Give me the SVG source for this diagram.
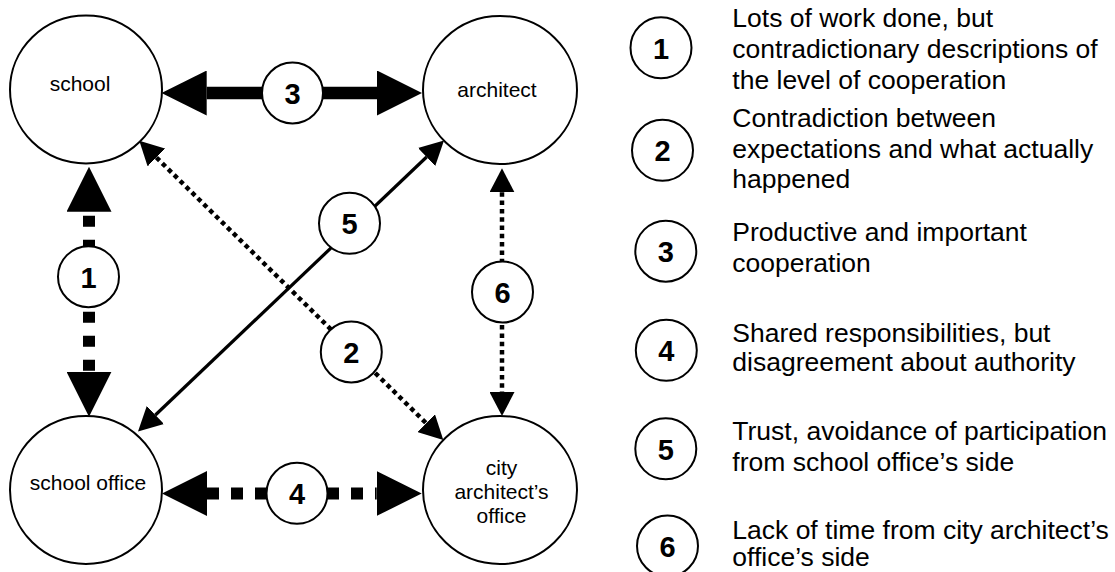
<svg xmlns="http://www.w3.org/2000/svg" width="1115" height="572" viewBox="0 0 1115 572">
  <style>
    .node { fill: #fff; stroke: #000; stroke-width: 2; }
    .badge { fill: #fff; stroke: #000; stroke-width: 2; }
    .label { font-family: "Liberation Sans", Arial, sans-serif; font-size: 21px; fill: #000; text-anchor: middle; }
    .num { font-family: "Liberation Sans", Arial, sans-serif; font-size: 29px; font-weight: bold; fill: #000; text-anchor: middle; }
    .legend { font-family: "Liberation Sans", Arial, sans-serif; font-size: 26.5px; fill: #000; }
    .thick { fill: none; stroke: #000; stroke-width: 12.5; }
    .thick-dash { fill: none; stroke: #000; stroke-width: 12; }
    .thin { fill: none; stroke: #000; stroke-width: 3.2; }
    .dotted { fill: none; stroke: #000; stroke-width: 4.5; stroke-dasharray: 4.5 3.8; }
  </style>
  <defs>
    <marker id="head-big" markerUnits="userSpaceOnUse" viewBox="0 0 45 45" markerWidth="45" markerHeight="45" refX="0" refY="22.5" orient="auto-start-reverse">
      <path d="M0,0 L45,22.5 L0,45 Z" fill="#000"/>
    </marker>
    <marker id="head-small" markerUnits="userSpaceOnUse" viewBox="0 0 24 25" markerWidth="24" markerHeight="25" refX="0" refY="12.5" orient="auto-start-reverse">
      <path d="M0,0 L24,12.5 L0,25 Z" fill="#000"/>
    </marker>
  </defs>

  <rect width="1115" height="572" fill="#fff"/>

  <!-- connectors -->
  <g id="connectors">
    <path id="edge-1" class="thick-dash" d="M89,211.7 V371.7" stroke-dasharray="11 13" stroke-dashoffset="20" marker-start="url(#head-big)" marker-end="url(#head-big)"/>
    <path id="edge-2" class="dotted" d="M156.4,157.5 L426.2,423.2" marker-start="url(#head-small)" marker-end="url(#head-small)"/>
    <path id="edge-3" class="thick" d="M206.7,93 H377" marker-start="url(#head-big)" marker-end="url(#head-big)"/>
    <path id="edge-4" class="thick-dash" d="M207,493.5 H376.7" stroke-dasharray="12 12" marker-start="url(#head-big)" marker-end="url(#head-big)"/>
    <path id="edge-5" class="thin" d="M426.6,157 L155.4,415" marker-start="url(#head-small)" marker-end="url(#head-small)"/>
    <path id="edge-6" class="dotted" d="M502,192.3 V392" marker-start="url(#head-small)" marker-end="url(#head-small)"/>
  </g>

  <!-- numbered badges sitting on the connectors -->
  <g id="edge-labels">
    <g id="badge-1"><circle class="badge" cx="88.5" cy="276.7" r="30.5"/><text class="num" x="88.5" y="287.5">1</text></g>
    <g id="badge-2"><circle class="badge" cx="351.3" cy="352" r="30.5"/><text class="num" x="351.3" y="363">2</text></g>
    <g id="badge-3"><circle class="badge" cx="292.5" cy="93" r="30.5"/><text class="num" x="292.5" y="104">3</text></g>
    <g id="badge-4"><circle class="badge" cx="297" cy="493.3" r="30.5"/><text class="num" x="297" y="504.3">4</text></g>
    <g id="badge-5"><circle class="badge" cx="349.5" cy="223.3" r="30.5"/><text class="num" x="349.5" y="234.3">5</text></g>
    <g id="badge-6"><circle class="badge" cx="502.5" cy="292" r="30.5"/><text class="num" x="502.5" y="303">6</text></g>
  </g>

  <!-- actors -->
  <g id="node-school">
    <ellipse class="node" cx="86" cy="89.5" rx="76" ry="74"/>
    <text class="label" x="80" y="90.7">school</text>
  </g>
  <g id="node-architect">
    <ellipse class="node" cx="500" cy="90" rx="77" ry="74"/>
    <text class="label" x="497" y="97">architect</text>
  </g>
  <g id="node-school-office">
    <ellipse class="node" cx="86" cy="490" rx="76" ry="74"/>
    <text class="label" x="88" y="490">school office</text>
  </g>
  <g id="node-city-architect">
    <ellipse class="node" cx="500" cy="490" rx="77" ry="74"/>
    <text class="label" x="501.5" y="475">city</text>
    <text class="label" x="501.5" y="499.3">architect’s</text>
    <text class="label" x="501.5" y="523.3">office</text>
  </g>

  <!-- key -->
  <g id="legend">
    <g id="legend-1">
      <circle class="badge" cx="661" cy="47.8" r="30.5"/><text class="num" x="661" y="58.8">1</text>
      <text class="legend" x="732.3" y="27">Lots of work done, but</text>
      <text class="legend" x="732.3" y="58">contradictionary descriptions of</text>
      <text class="legend" x="732.3" y="89">the level of cooperation</text>
    </g>
    <g id="legend-2">
      <circle class="badge" cx="662.5" cy="150.3" r="30.5"/><text class="num" x="662.5" y="161.3">2</text>
      <text class="legend" x="732.3" y="127">Contradiction between</text>
      <text class="legend" x="732.3" y="157.5">expectations and what actually</text>
      <text class="legend" x="732.3" y="188">happened</text>
    </g>
    <g id="legend-3">
      <circle class="badge" cx="665.8" cy="251.2" r="30.5"/><text class="num" x="665.8" y="262.2">3</text>
      <text class="legend" x="732.3" y="241">Productive and important</text>
      <text class="legend" x="732.3" y="271.5">cooperation</text>
    </g>
    <g id="legend-4">
      <circle class="badge" cx="666.3" cy="350.3" r="30.5"/><text class="num" x="666.3" y="361.3">4</text>
      <text class="legend" x="732.3" y="341.5">Shared responsibilities, but</text>
      <text class="legend" x="732.3" y="371">disagreement about authority</text>
    </g>
    <g id="legend-5">
      <circle class="badge" cx="665.8" cy="448.8" r="30.5"/><text class="num" x="665.8" y="459.8">5</text>
      <text class="legend" x="732.3" y="440">Trust, avoidance of participation</text>
      <text class="legend" x="732.3" y="470.5">from school office’s side</text>
    </g>
    <g id="legend-6">
      <circle class="badge" cx="667.5" cy="546" r="30.5"/><text class="num" x="667.5" y="557">6</text>
      <text class="legend" x="732.3" y="538.5">Lack of time from city architect’s</text>
      <text class="legend" x="732.3" y="566">office’s side</text>
    </g>
  </g>
</svg>
